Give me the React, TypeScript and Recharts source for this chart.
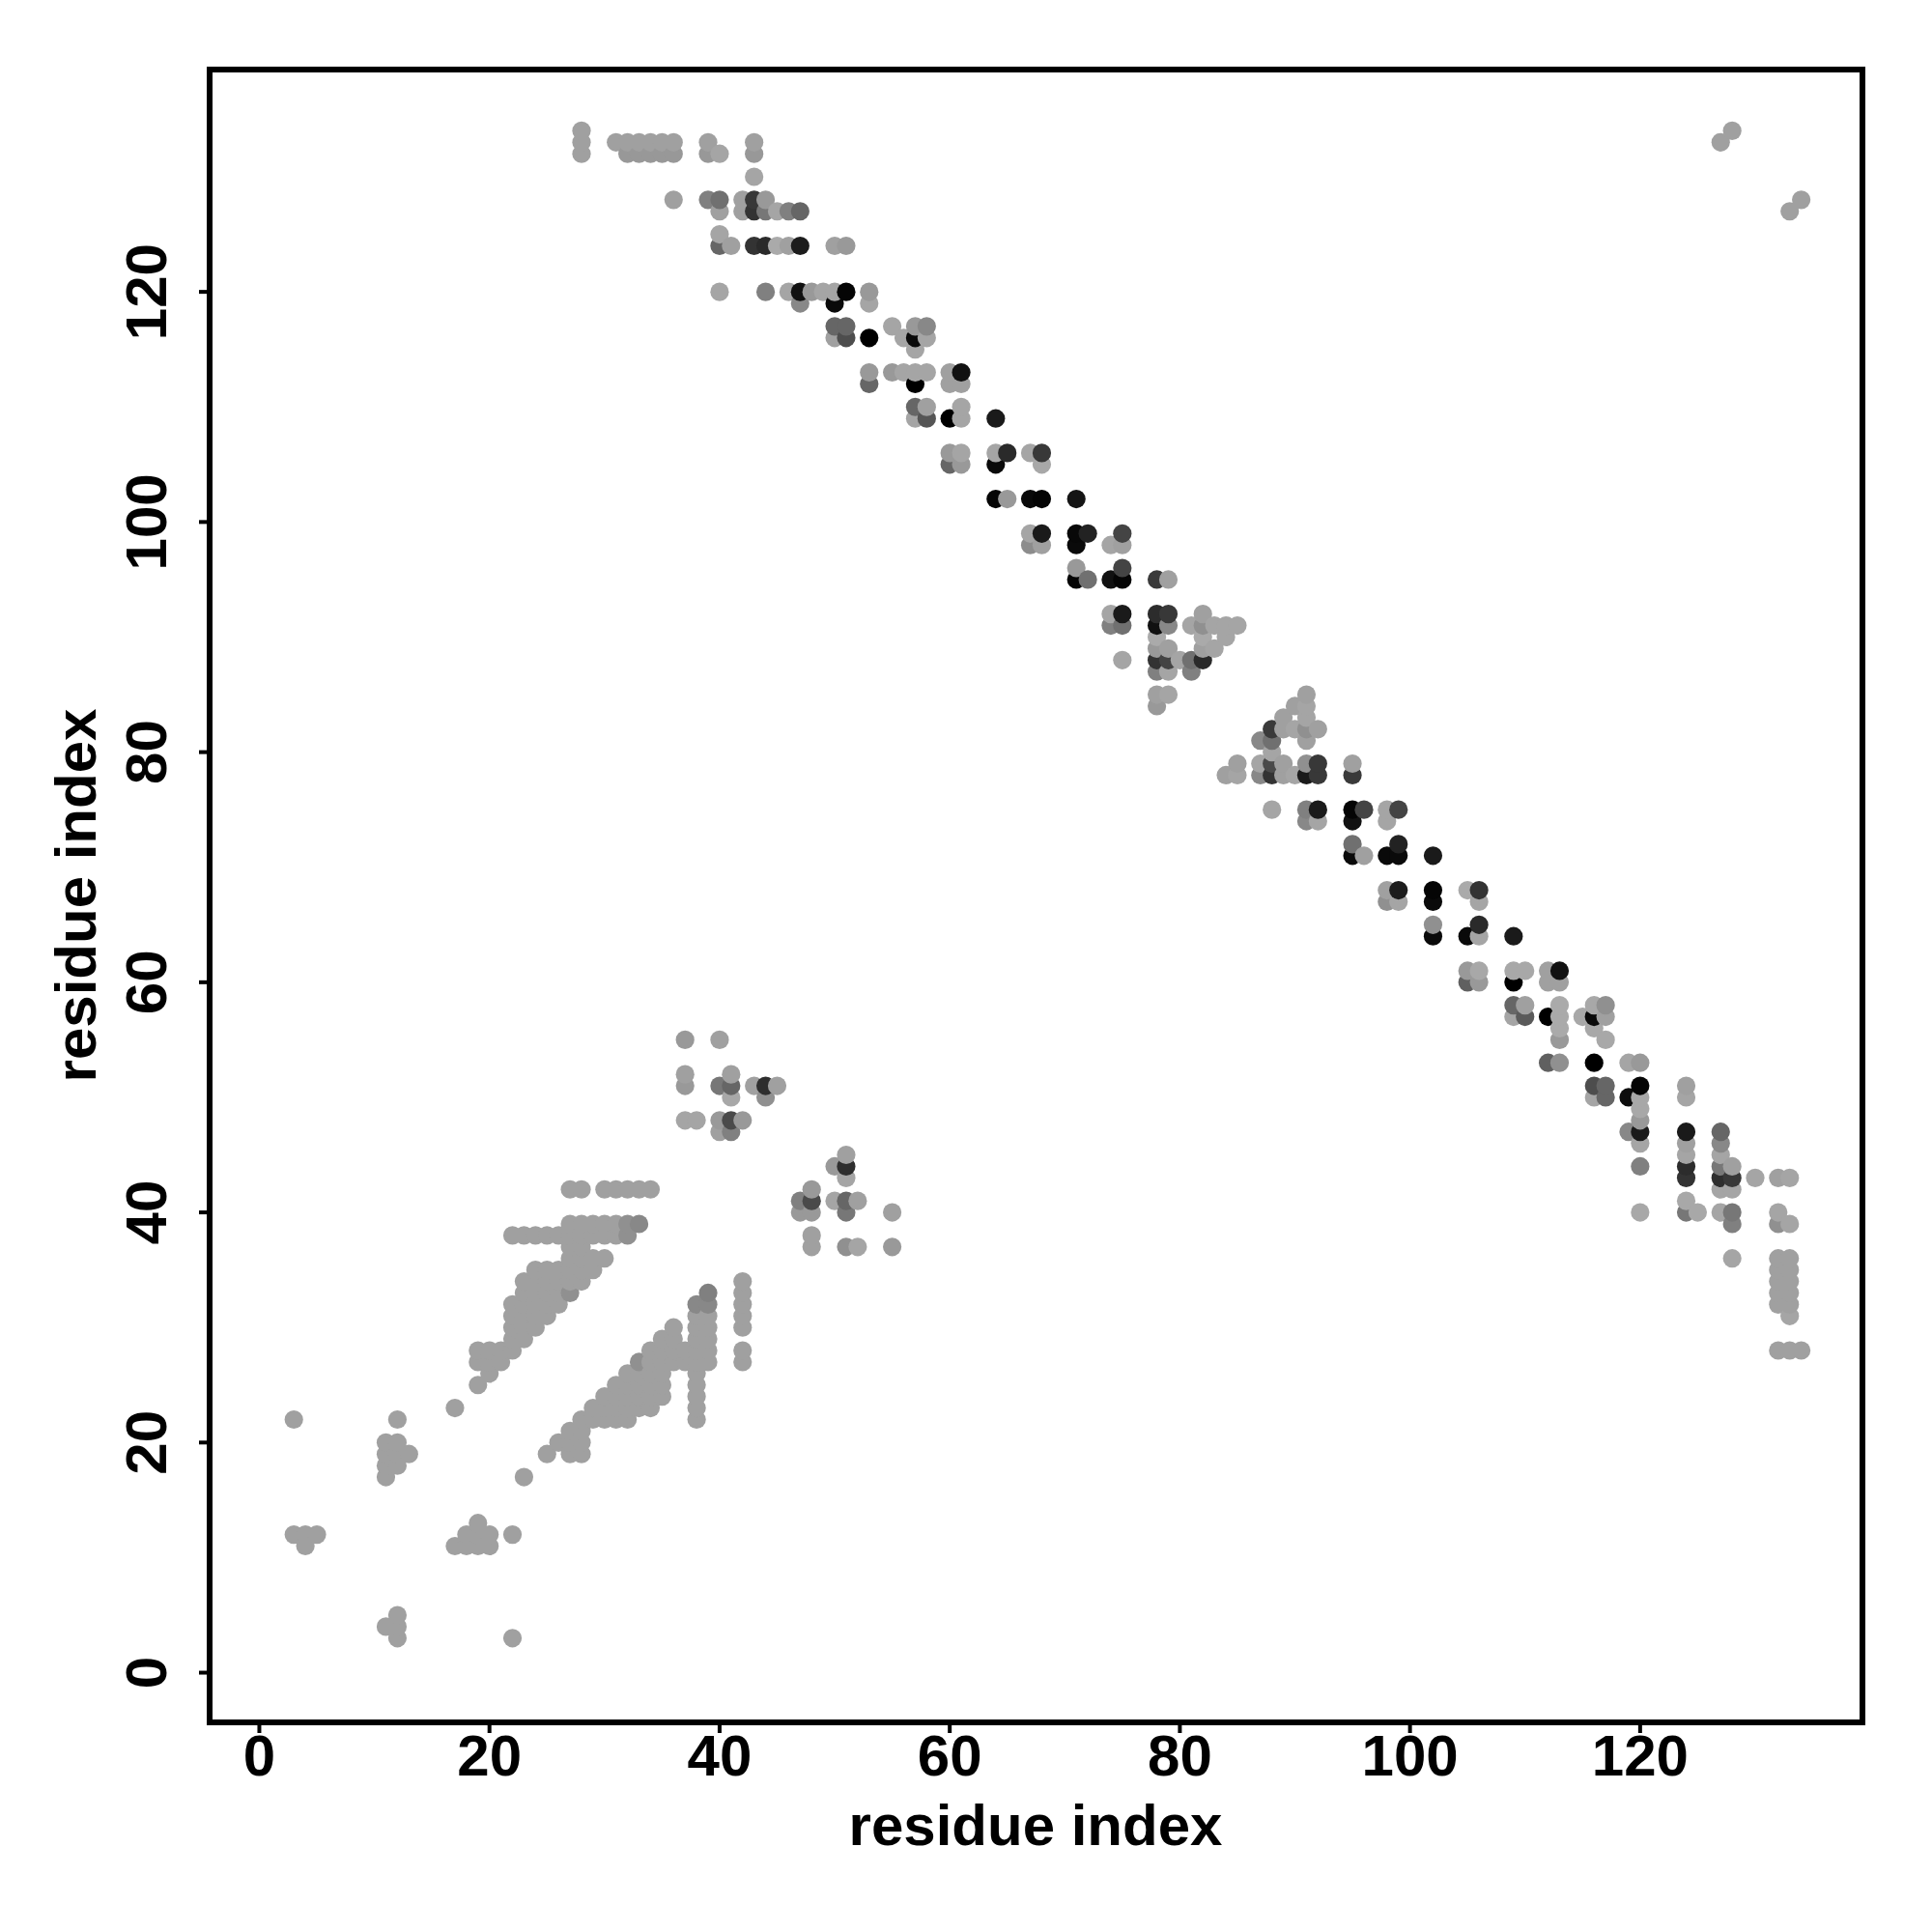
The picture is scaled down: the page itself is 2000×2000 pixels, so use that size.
import { ScatterChart, Scatter, XAxis, YAxis, ReferenceArea, Label } from "recharts"

type ShadedRow = [number, [number, number][]]
type PlainRow = [number, number[]]

const L = 0xa0 // the usual pale contact grey
const FONT = "'Liberation Sans', Arial, sans-serif"

const xTicks = [0, 20, 40, 60, 80, 100, 120]
const yTicks = [0, 20, 40, 60, 80, 100, 120]
const axisTitle = "residue index"

// the two pale bands near the bottom left: [residue y, residues x]
const upperBand: PlainRow[] = [
  [42, [27, 28, 30, 31, 32, 33, 34]],
  [39, [27, 28, 29, 30, 31]],
  [38, [22, 23, 24, 25, 26, 27, 28, 29, 30, 31]],
  [37, [27, 28]],
  [36, [27, 28, 29, 30]],
  [35, [24, 25, 26, 27, 28, 29]],
  [34, [23, 24, 25, 26, 27, 28]],
  [33, [23, 24, 25, 26]],
  [32, [22, 23, 24, 25, 26]],
  [31, [22, 23, 24, 25]],
  [30, [22, 23, 24]],
  [29, [22, 23]],
  [28, [19, 20, 21, 22]],
  [27, [19, 20, 21]],
  [26, [20]],
  [25, [19]],
]

const lowerBand: PlainRow[] = [
  [34, [42]],
  [33, [42]],
  [32, [42]],
  [31, [38, 39, 42]],
  [30, [36, 38, 39, 42]],
  [29, [35, 36, 38, 39]],
  [28, [34, 35, 36, 37, 38, 39, 42]],
  [27, [34, 35, 36, 37, 38, 39, 42]],
  [26, [32, 33, 34, 35, 38]],
  [25, [31, 32, 33, 34, 35, 38]],
  [24, [30, 31, 32, 33, 34, 35, 38]],
  [23, [29, 30, 31, 32, 33, 34, 38]],
  [22, [28, 29, 30, 31, 32, 38]],
  [21, [27, 28]],
  [20, [26, 27, 28]],
  [19, [25, 27, 28]],
]

const isolated: PlainRow[] = [
  [23, [17]],
  [22, [3, 12]],
  [20, [11, 12]],
  [19, [11, 12, 13]],
  [18, [11, 12]],
  [17, [11, 23]],
  [13, [19]],
  [12, [3, 4, 5, 18, 19, 20, 22]],
  [11, [4, 17, 18, 19, 20]],
  [5, [12]],
  [4, [11, 12]],
  [3, [12, 22]],
]

const bandDark: ShadedRow[] = [
  [39, [[32, 0x90], [33, 0x88]]],
  [38, [[32, 0x90]]],
  [33, [[27, 0x90], [39, 0x80]]],
  [32, [[38, 0x88], [39, 0x88]]],
  [27, [[33, 0x90]]],
]

// small clusters in the middle: [y, [x, grey]]
const midContacts: ShadedRow[] = [
  [55, [[37, 0x99], [40, L]]],
  [52, [[37, L], [41, L]]],
  [51, [[37, 0x99], [40, 0x77], [41, 0x66], [43, L], [44, 0x2e], [45, L]]],
  [50, [[41, 0xa8], [44, 0x90]]],
  [48, [[37, 0xa5], [38, 0xa5], [40, 0x99], [41, 0x4a], [42, 0x99]]],
  [47, [[40, L], [41, 0x80]]],
  [45, [[51, L]]],
  [44, [[50, 0x99], [51, 0x2e]]],
  [43, [[51, 0xa5]]],
  [42, [[48, 0x99]]],
  [41, [[47, 0x80], [48, 0x4a], [50, 0xa5], [51, 0x66], [52, L]]],
  [40, [[47, 0x99], [48, 0x99], [51, 0x77], [55, L]]],
  [38, [[48, L]]],
  [37, [[48, L], [51, 0x90], [52, 0xa5], [55, 0x99]]],
]

// anti-diagonal, top half
const antiDiagonalTop: ShadedRow[] = [
  [134, [[28, L], [128, L]]],
  [133, [[28, L], [31, L], [32, L], [33, L], [34, L], [35, L], [36, L], [39, L], [43, L], [127, L]]],
  [132, [[28, L], [32, 0x98], [33, 0x98], [34, 0x98], [35, 0x98], [36, 0x98], [39, 0x98], [40, 0xa5], [43, 0x98]]],
  [130, [[43, 0xa5]]],
  [128, [[36, L], [39, 0x80], [40, 0x70], [42, L], [43, 0x38], [44, 0x99], [134, L]]],
  [127, [[40, L], [42, L], [43, 0x33], [44, 0x77], [45, 0xa5], [46, 0x80], [47, 0x66], [133, L]]],
  [125, [[40, 0xa5]]],
  [124, [[40, 0x66], [41, L], [43, 0x33], [44, 0x2a], [45, 0xaa], [46, L], [47, 0x1c], [50, L], [51, 0x99]]],
  [120, [[40, 0xa5], [44, 0x80], [46, 0xa5], [47, 0x11], [48, 0x99], [49, 0xa5], [50, 0xa5], [51, 0x05], [53, 0x99]]],
  [119, [[47, 0x88], [50, 0x0a], [53, 0xa5]]],
  [117, [[50, 0x66], [51, 0x66], [55, 0xa5], [57, 0x99], [58, 0x88]]],
  [116, [[50, L], [51, 0x4d], [53, 0x00], [56, 0xa5], [57, 0x0a], [58, 0xa5]]],
  [115, [[57, 0xa5]]],
  [113, [[53, 0x99], [55, 0x99], [56, 0xa5], [57, 0xa5], [58, 0xa5], [60, L], [61, 0x11]]],
  [112, [[53, 0x66], [57, 0x00], [60, L], [61, L]]],
  [110, [[57, 0x66], [58, L], [61, 0xa5]]],
  [109, [[57, 0xa5], [58, 0x55], [60, 0x00], [61, 0xa5], [64, 0x1a]]],
  [106, [[60, 0x99], [61, 0xa5], [64, 0xa5], [65, 0x2a], [67, 0xa5], [68, 0x38]]],
  [105, [[60, 0x66], [61, 0x99], [64, 0x0a], [68, 0xa8]]],
  [102, [[64, 0x05], [65, 0x99], [67, 0x0a], [68, 0x05], [71, 0x15]]],
  [99, [[67, 0xa5], [68, 0x1a], [71, 0x08], [72, 0x22], [75, 0x44]]],
  [98, [[67, 0x8c], [68, L], [71, 0x0a], [74, 0xa5], [75, L]]],
  [96, [[71, 0x99], [75, 0x44]]],
  [95, [[71, 0x05], [72, 0x70], [74, 0x11], [75, 0x05], [78, 0x3a], [79, L]]],
  [92, [[74, 0xa5], [75, 0x1a], [78, 0x2c], [79, 0x38], [82, L]]],
  [91, [[74, 0x80], [75, 0x70], [78, 0x11], [79, 0x88], [81, 0xa5], [82, 0x90], [83, 0xa5], [84, 0xa5], [85, 0xa5]]],
  [90, [[78, 0xaa], [82, 0xaa], [84, 0xa5]]],
  [89, [[78, 0x99], [79, L], [82, L], [83, 0xa5]]],
  [88, [[75, 0xa5], [78, 0x33], [79, 0x44], [80, 0xa5], [81, 0x70], [82, 0x2a]]],
  [87, [[78, 0x80], [79, 0xa5], [81, 0x80]]],
  [85, [[78, L], [79, 0xa5], [91, L]]],
  [84, [[78, 0x99], [90, L], [91, 0xa5]]],
  [83, [[89, L], [91, 0xa5]]],
  [82, [[88, 0x3a], [89, L], [90, 0xa5], [91, 0x90], [92, L]]],
  [81, [[87, 0x88], [88, 0x70], [91, L]]],
  [80, [[88, 0xa5]]],
]

// anti-diagonal, bottom half
const antiDiagonalBottom: ShadedRow[] = [
  [79, [[85, L], [87, 0xa5], [88, 0x4a], [89, L], [91, 0x90], [92, 0x38], [95, L]]],
  [78, [[84, L], [85, 0xa5], [87, 0x88], [88, 0x33], [89, L], [90, 0xa5], [91, 0x1a], [92, 0x38], [95, 0x3a]]],
  [75, [[88, 0xa5], [91, 0x80], [92, 0x1a], [95, 0x05], [96, 0x44], [98, 0xa5], [99, 0x44]]],
  [74, [[91, 0x88], [92, 0xa5], [95, 0x11], [98, 0xa5]]],
  [72, [[95, 0x70], [99, 0x22]]],
  [71, [[95, 0x0a], [96, L], [98, 0x0a], [99, 0x0a], [102, 0x1a]]],
  [68, [[98, L], [99, 0x1c], [102, 0x05], [105, 0xaa], [106, 0x33]]],
  [67, [[98, 0x90], [99, 0xa5], [102, 0x0a], [106, 0xa5]]],
  [65, [[102, 0x90], [106, 0x2a]]],
  [64, [[102, 0x0a], [105, 0x0a], [106, 0xa5], [109, 0x1a]]],
  [61, [[105, 0x99], [106, 0xa8], [109, 0xa8], [110, 0xa8], [112, L], [113, 0x11]]],
  [60, [[105, 0x60], [106, 0x99], [109, 0x00], [112, L], [113, L]]],
  [58, [[109, 0x66], [110, L], [113, 0xaa], [116, 0xa8], [117, 0x90]]],
  [57, [[109, 0xa5], [110, 0x5a], [112, 0x00], [113, 0xaa], [115, 0xa8], [116, 0x0a], [117, L]]],
  [56, [[113, 0xaa], [116, 0xa8]]],
  [55, [[113, 0x99], [117, 0xa8]]],
  [53, [[112, 0x60], [113, 0x90], [116, 0x00], [119, 0xa5], [120, 0x99]]],
  [51, [[116, 0x4d], [117, 0x66], [120, 0x05], [124, L]]],
  [50, [[116, 0xa5], [117, 0x66], [119, 0x0d], [120, 0xa8], [124, 0xa5]]],
  [49, [[120, 0xa8]]],
  [48, [[120, 0x99]]],
  [47, [[119, 0x88], [120, 0x1a], [124, 0x1a], [127, 0x66]]],
  [46, [[120, 0xa5], [124, L], [127, 0x88]]],
  [45, [[124, 0xa5], [127, 0xa5]]],
  [44, [[120, 0x80], [124, 0x2c], [127, 0x77], [128, L]]],
  [43, [[124, 0x33], [127, 0x2e], [128, 0x38], [130, 0xa5], [132, L], [133, 0xa5]]],
  [42, [[127, 0xa5], [128, 0xa5]]],
  [41, [[124, 0xa8]]],
  [40, [[120, 0xa8], [124, 0x77], [125, 0xa8], [127, 0xa5], [128, 0x77], [132, 0xa5]]],
  [39, [[128, 0x80], [132, 0x90], [133, 0xa5]]],
  [36, [[128, 0xa5], [132, L], [133, L]]],
  [35, [[132, L], [133, L]]],
  [34, [[132, L], [133, L]]],
  [33, [[132, L], [133, L]]],
  [32, [[132, L], [133, L]]],
  [31, [[133, 0xa5]]],
  [28, [[132, L], [133, L], [134, L]]],
]

const plainPoints = [...upperBand, ...lowerBand, ...isolated].flatMap(([y, xs]) =>
  xs.map((x) => ({ x, y, shade: L }))
)
const shadedPoints = [...bandDark, ...midContacts, ...antiDiagonalTop, ...antiDiagonalBottom].flatMap(([y, cells]) =>
  cells.map(([x, shade]) => ({ x, y, shade }))
)

// later residues paint over earlier ones, same as the original plot
const contacts = [...plainPoints, ...shadedPoints].sort((a, b) => a.x - b.x || a.y - b.y)

const domain: [number, number] = [-4.32, 139.32]

const ContactDot = ({ cx, cy, payload }: any) => {
  const g = payload.shade
  return <circle cx={cx} cy={cy} r={9.6} fill={`rgb(${g},${g},${g})`} />
}

const XTick = ({ x, payload }: any) => (
  <text x={x} y={1838} textAnchor="middle" fontFamily={FONT} fontWeight="bold" fontSize={60} fill="#000">
    {payload.value}
  </text>
)

const YTick = ({ y, payload }: any) => (
  <text
    x={172}
    y={y}
    transform={`rotate(-90 172 ${y})`}
    textAnchor="middle"
    fontFamily={FONT}
    fontWeight="bold"
    fontSize={60}
    fill="#000"
  >
    {payload.value}
  </text>
)

const XTitle = () => (
  <text x={1072} y={1910} textAnchor="middle" fontFamily={FONT} fontWeight="bold" fontSize={60} fill="#000">
    {axisTitle}
  </text>
)

const YTitle = () => (
  <text
    x={99}
    y={927}
    transform="rotate(-90 99 927)"
    textAnchor="middle"
    fontFamily={FONT}
    fontWeight="bold"
    fontSize={60}
    fill="#000"
  >
    {axisTitle}
  </text>
)

export default function App() {
  return (
    <div style={{ position: "absolute", left: 0, top: 0, width: 2000, height: 2000, background: "#fff" }}>
      <ScatterChart width={2000} height={2000} margin={{ top: 72, right: 72, bottom: 0, left: 0 }}>
        <XAxis
          type="number"
          dataKey="x"
          domain={domain}
          ticks={xTicks}
          allowDataOverflow
          height={217}
          axisLine={false}
          tickSize={11}
          tickLine={{ stroke: "#000", strokeWidth: 4 }}
          tick={<XTick />}
          interval={0}
        >
          <Label content={<XTitle />} />
        </XAxis>
        <YAxis
          type="number"
          dataKey="y"
          domain={domain}
          ticks={yTicks}
          allowDataOverflow
          width={217}
          axisLine={false}
          tickSize={11}
          tickLine={{ stroke: "#000", strokeWidth: 4 }}
          tick={<YTick />}
          interval={0}
        >
          <Label content={<YTitle />} />
        </YAxis>
        <Scatter data={contacts} isAnimationActive={false} shape={<ContactDot />} />
        <ReferenceArea
          x1={domain[0]}
          x2={domain[1]}
          y1={domain[0]}
          y2={domain[1]}
          fill="none"
          stroke="#000"
          strokeWidth={6}
          ifOverflow="visible"
        />
      </ScatterChart>
    </div>
  )
}
